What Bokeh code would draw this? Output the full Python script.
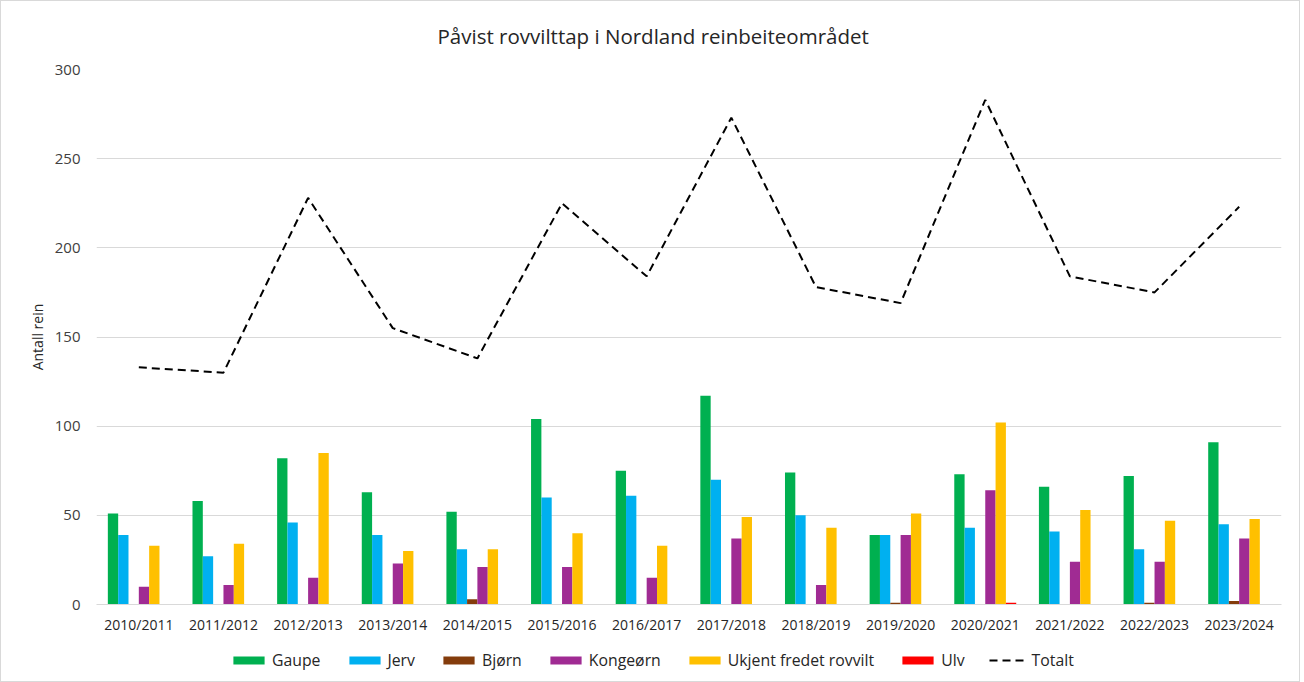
from bokeh.plotting import figure
from bokeh.models import FactorRange, Range1d, Legend, LegendItem, ColumnDataSource
from bokeh.layouts import column
from bokeh.transform import dodge
from bokeh.embed import file_html
from bokeh.resources import INLINE

seasons = ["2010/2011", "2011/2012", "2012/2013", "2013/2014", "2014/2015",
           "2015/2016", "2016/2017", "2017/2018", "2018/2019", "2019/2020",
           "2020/2021", "2021/2022", "2022/2023", "2023/2024"]
gaupe = [51, 58, 82, 63, 52, 104, 75, 117, 74, 39, 73, 66, 72, 91]
jerv = [39, 27, 46, 39, 31, 60, 61, 70, 50, 39, 43, 41, 31, 45]
bjorn = [0, 0, 0, 0, 3, 0, 0, 0, 0, 1, 0, 0, 1, 2]
kongeorn = [10, 11, 15, 23, 21, 21, 15, 37, 11, 39, 64, 24, 24, 37]
ukjent = [33, 34, 85, 30, 31, 40, 33, 49, 43, 51, 102, 53, 47, 48]
ulv = [0, 0, 0, 0, 0, 0, 0, 0, 0, 0, 1, 0, 0, 0]
totalt = [133, 130, 228, 155, 138, 225, 184, 273, 178, 169, 283, 184, 175, 223]

series_names = ["Gaupe", "Jerv", "Bjørn", "Kongeørn", "Ukjent fredet rovvilt", "Ulv"]
series_keys = ["gaupe", "jerv", "bjorn", "kongeorn", "ukjent", "ulv"]
series_colors = ["#00B050", "#00B0F0", "#843C0C", "#A02B93", "#FFC000", "#FF0000"]

src = ColumnDataSource(dict(season=seasons, gaupe=gaupe, jerv=jerv, bjorn=bjorn,
                            kongeorn=kongeorn, ukjent=ukjent, ulv=ulv, totalt=totalt))

FONT = "Open Sans"
W = 1298

p = figure(x_range=FactorRange(*seasons), y_range=Range1d(0, 300),
           width=W, height=638, output_backend="svg", toolbar_location=None,
           min_border_left=95, min_border_right=18, min_border_top=68,
           min_border_bottom=35)

bw = 0.122
for i, (key, col) in enumerate(zip(series_keys, series_colors)):
    off = (i - 2.5) * bw
    p.vbar(x=dodge("season", off, range=p.x_range), top=key, width=bw,
           source=src, fill_color=col, line_color=None)

p.line(x="season", y="totalt", source=src, line_color="black",
       line_width=2, line_dash="8 5")

p.title.text = "Påvist rovvilttap i Nordland reinbeiteområdet"
p.title.align = "left"
p.title.vertical_align = "middle"
p.title.offset = 341
p.title.standoff = 38
p.title.text_font = FONT
p.title.text_font_size = "20.5px"
p.title.text_font_style = "normal"
p.title.text_color = "#262626"

p.xgrid.grid_line_color = None
p.ygrid.grid_line_color = "#d9d9d9"
p.ygrid.grid_line_width = 1

p.yaxis.axis_line_color = None
p.yaxis.major_tick_line_color = None
p.yaxis.minor_tick_line_color = None
p.yaxis.ticker = [0, 50, 100, 150, 200, 250, 300]
p.yaxis.major_label_text_font = FONT
p.yaxis.major_label_text_font_size = "15px"
p.yaxis.major_label_text_color = "#404040"
p.yaxis.major_label_standoff = 10
p.yaxis.axis_label = "Antall rein"
p.yaxis.axis_label_text_font = FONT
p.yaxis.axis_label_text_font_size = "14px"
p.yaxis.axis_label_text_font_style = "normal"
p.yaxis.axis_label_text_color = "#262626"
p.yaxis.axis_label_standoff = 5

p.xaxis.axis_line_color = "#d9d9d9"
p.xaxis.major_tick_line_color = None
p.xaxis.minor_tick_line_color = None
p.xaxis.major_label_text_font = FONT
p.xaxis.major_label_text_font_size = "14px"
p.xaxis.major_label_text_color = "#262626"
p.xaxis.major_label_standoff = 4

p.outline_line_color = None

# legend strip below the chart (swatch renderers sit outside the visible ranges)
p2 = figure(width=W, height=42, output_backend="svg", toolbar_location=None,
            x_range=Range1d(0, 1), y_range=Range1d(0, 1),
            x_axis_type=None, y_axis_type=None, min_border=0)
p2.grid.grid_line_color = None
p2.outline_line_color = None
items = []
for name, col in zip(series_names, series_colors):
    r = p2.vbar(x=[-50], bottom=[-60], top=[-50], width=0.1, fill_color=col, line_color=None)
    items.append(LegendItem(label=name, renderers=[r]))
rl = p2.line(x=[-60, -50], y=[-50, -50], line_color="black", line_width=2, line_dash="8 5")
items.append(LegendItem(label="Totalt", renderers=[rl]))

legend = Legend(items=items, orientation="horizontal", location=(133, 10))
legend.label_text_font = FONT
legend.label_text_font_size = "15.8px"
legend.label_text_color = "#262626"
legend.glyph_width = 39
legend.glyph_height = 10
legend.label_standoff = 4
legend.spacing = 24
legend.border_line_color = None
legend.background_fill_alpha = 0
legend.padding = 4
legend.margin = 0
p2.add_layout(legend, "center")

layout = column(p, p2, spacing=0, styles={"border": "1px solid #d9d9d9"})

open("out.html", "w").write(file_html(layout, INLINE))
